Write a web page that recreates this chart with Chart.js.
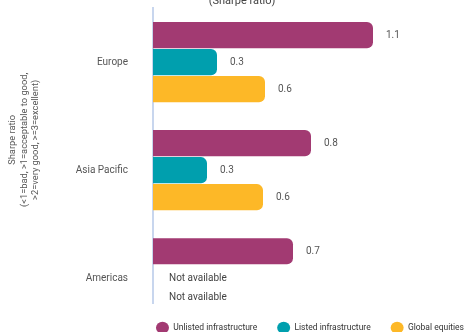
<!DOCTYPE html>
<html>
<head>
<meta charset="utf-8">
<script src="https://cdn.jsdelivr.net/npm/chart.js@4"></script>
<style>
  html, body { margin: 0; padding: 0; background: #fff; }
  #wrap { width: 464px; height: 332px; }
</style>
</head>
<body>
<div id="wrap"><canvas id="sharpe"></canvas></div>
<script>
const regions = ["Europe", "Asia Pacific", "Americas"];
const seriesNames = ["Unlisted infrastructure", "Listed infrastructure", "Global equities"];
const unlisted = [1.1, 0.79, 0.7];
const listed = [0.32, 0.27, null];
const equities = [0.56, 0.55, null];
const colors = ["#a23a72", "#009fae", "#fdb827"];
const yTitle = ["Sharpe ratio", "(<1=bad, >1=acceptable to good,", ">2=very good, >=3=excellent)"];

// value labels at the end of each bar, "Not available" lines for missing ones
const valueLabels = {
    id: "valueLabels",
    afterDatasetsDraw(chart) {
        const ctx = chart.ctx;
        const x0 = chart.scales.x.getPixelForValue(0);
        const missing = {};
        ctx.save();
        ctx.font = "10px Roboto";
        ctx.textBaseline = "middle";
        ctx.textAlign = "left";
        chart.data.datasets.forEach((ds, di) => {
            chart.getDatasetMeta(di).data.forEach((bar, i) => {
                const v = ds.data[i];
                if (v === null) {
                    if (!missing[i]) missing[i] = { y: bar.y, n: 0 };
                    ctx.fillStyle = "#444";
                    ctx.fillText("Not available", x0 + 16, missing[i].y + missing[i].n * 19);
                    missing[i].n++;
                } else {
                    ctx.fillStyle = "#555";
                    ctx.fillText(v.toFixed(1), bar.x + 13, bar.y);
                }
            });
        });
        ctx.restore();
    }
};

// rotated multi-line axis title, sitting a bit above the middle of the axis
const axisTitle = {
    id: "axisTitle",
    afterDraw(chart) {
        const ctx = chart.ctx;
        const area = chart.chartArea;
        ctx.save();
        ctx.translate(13, area.top + (area.bottom - area.top) / 2 - 16);
        ctx.rotate(-Math.PI / 2);
        ctx.font = "9.3px 'Liberation Sans Narrow', Roboto";
        ctx.fillStyle = "#555";
        ctx.textAlign = "center";
        ctx.textBaseline = "middle";
        yTitle.forEach((line, i) => ctx.fillText(line, 0, i * 11.5));
        ctx.restore();
    }
};

// keep the scales from clamping the layout padding
function noPad(scale) {
    scale.paddingTop = 0;
    scale.paddingBottom = 0;
}

const ctx = document.getElementById("sharpe").getContext("2d");
const chart = new Chart(ctx, {
    type: "bar",
    data: {
        labels: regions,
        datasets: [unlisted, listed, equities].map((d, i) => ({
            label: seriesNames[i],
            data: d,
            backgroundColor: colors[i],
            borderRadius: 6,
            borderSkipped: "start",
            categoryPercentage: 0.75,
            barPercentage: 0.97
        }))
    },
    options: {
        indexAxis: "y",
        responsive: true,
        maintainAspectRatio: false,
        animation: false,
        layout: { padding: { top: -5, left: 0, right: -20, bottom: -10 } },
        scales: {
            x: { display: false, min: 0, max: 1.555, afterFit: noPad },
            y: {
                grid: { display: false, drawTicks: false },
                border: { display: true, color: "#c8d6ee", width: 2 },
                ticks: { color: "#555", font: { family: "Roboto", size: 10 }, padding: 25 },
                afterFit(scale) {
                    scale.width = 153;
                    noPad(scale);
                },
                afterBuildTicks(scale) { scale._valueRange = 2.734; }
            }
        },
        plugins: {
            title: {
                display: true,
                text: "(Sharpe ratio)",
                color: "#444",
                font: { family: "Roboto", size: 11, weight: "normal" },
                padding: { top: 0, bottom: 0 }
            },
            legend: {
                position: "bottom",
                align: "end",
                labels: {
                    usePointStyle: true,
                    pointStyle: "circle",
                    pointStyleWidth: 13,
                    color: "#333",
                    font: { family: "Roboto", size: 8.5 },
                    padding: 20
                }
            },
            tooltip: { enabled: false }
        }
    },
    plugins: [valueLabels, axisTitle]
});
</script>
</body>
</html>
